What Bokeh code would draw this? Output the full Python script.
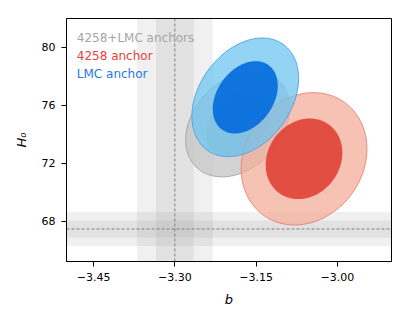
import numpy as np
from bokeh.plotting import figure
from bokeh.models import Range1d, FixedTicker, CustomJSTickFormatter, BoxAnnotation, Span, ColumnDataSource
from bokeh.core.properties import value
from bokeh.embed import file_html
from bokeh.resources import INLINE

# ---- data ----
series_names = ["4258+LMC anchors", "4258 anchor", "LMC anchor"]
center_b = [-3.184, -3.0615, -3.170]
center_H = [74.70, 72.30, 76.55]
sigma_b = [0.0386, 0.0467, 0.0396]
sigma_H = [1.468, 1.840, 1.650]
corr = [0.30, 0.15, 0.32]
levels = [2.486, 1.515]          # 95% and 68% radii of a 2D Gaussian

outer_colors = ["#c4c4c4", "#f3ae9a", "#6fc4ef"]
inner_colors = ["#b9b9b9", "#e14136", "#026add"]
edge_colors = ["#a0a0a0", "#e8806f", "#4b9ee8"]
text_colors = ["#a6a6a6", "#e8423a", "#1f78e6"]

planck_b, planck_b_sig = -3.30, 0.035
planck_H, planck_H_sig = 67.45, 0.59

b_ticks = [-3.45, -3.30, -3.15, -3.00]
H_ticks = [68, 72, 76, 80]
legend_b = [-3.481, -3.481, -3.481]
legend_H = [80.67, 79.43, 78.16]

FONT = "DejaVu Sans"

p = figure(width=405, height=318, output_backend="svg", toolbar_location=None,
           x_range=Range1d(-3.50, -2.90), y_range=Range1d(65.2, 82.0),
           min_border_left=66, min_border_right=14, min_border_top=18, min_border_bottom=57)
p.grid.visible = False
p.outline_line_color = "black"
p.outline_line_width = 1
p.background_fill_color = "white"

# bands
for k in (1, 2):
    p.add_layout(BoxAnnotation(left=planck_b - k * planck_b_sig, right=planck_b + k * planck_b_sig,
                               fill_color="#808080", fill_alpha=0.12, line_color=None, level="underlay"))
    p.add_layout(BoxAnnotation(bottom=planck_H - k * planck_H_sig, top=planck_H + k * planck_H_sig,
                               fill_color="#808080", fill_alpha=0.12, line_color=None, level="underlay"))
p.add_layout(Span(location=planck_b, dimension="height", line_color="#808080", line_width=1,
                  line_dash="3 2", level="underlay"))
p.add_layout(Span(location=planck_H, dimension="width", line_color="#808080", line_width=1,
                  line_dash="3 2", level="underlay"))

t = np.linspace(0, 2 * np.pi, 240)
for i in range(len(series_names)):
    for j, r in enumerate(levels):
        xs = center_b[i] + r * sigma_b[i] * np.cos(t)
        ys = center_H[i] + r * sigma_H[i] * (corr[i] * np.cos(t) + np.sqrt(1 - corr[i] ** 2) * np.sin(t))
        if j == 0:
            p.patch(xs, ys, fill_color=outer_colors[i], fill_alpha=0.75,
                    line_color=edge_colors[i], line_width=1, line_alpha=0.9)
        else:
            p.patch(xs, ys, fill_color=inner_colors[i], fill_alpha=0.9, line_color=None)

src = ColumnDataSource(dict(x=legend_b, y=legend_H, text=series_names, color=text_colors))
p.text(x="x", y="y", text="text", text_color="color", source=src, text_font=value(FONT),
       text_font_size="12px", text_baseline="middle", text_align="left")

p.xaxis.ticker = FixedTicker(ticks=b_ticks)
p.yaxis.ticker = FixedTicker(ticks=H_ticks)
p.xaxis.formatter = CustomJSTickFormatter(code="return tick.toFixed(2).replace('-', '\u2212');")
for ax in (p.xaxis, p.yaxis):
    ax.major_tick_in = 0
    ax.major_tick_out = 5
    ax.minor_tick_line_color = None
    ax.axis_line_color = "black"
    ax.major_tick_line_color = "black"
    ax.major_label_text_font = FONT
    ax.major_label_text_font_size = "11px"
    ax.major_label_text_color = "black"
    ax.axis_label_text_font = FONT
    ax.axis_label_text_font_size = "13px"
    ax.axis_label_text_font_style = "italic"
    ax.axis_label_text_color = "black"
    ax.major_label_standoff = 6
p.xaxis.axis_label = "b"
p.yaxis.axis_label = "H\u2080"
p.xaxis.axis_label_standoff = 8
p.yaxis.axis_label_standoff = 10

open("out.html", "w").write(file_html(p, INLINE))
